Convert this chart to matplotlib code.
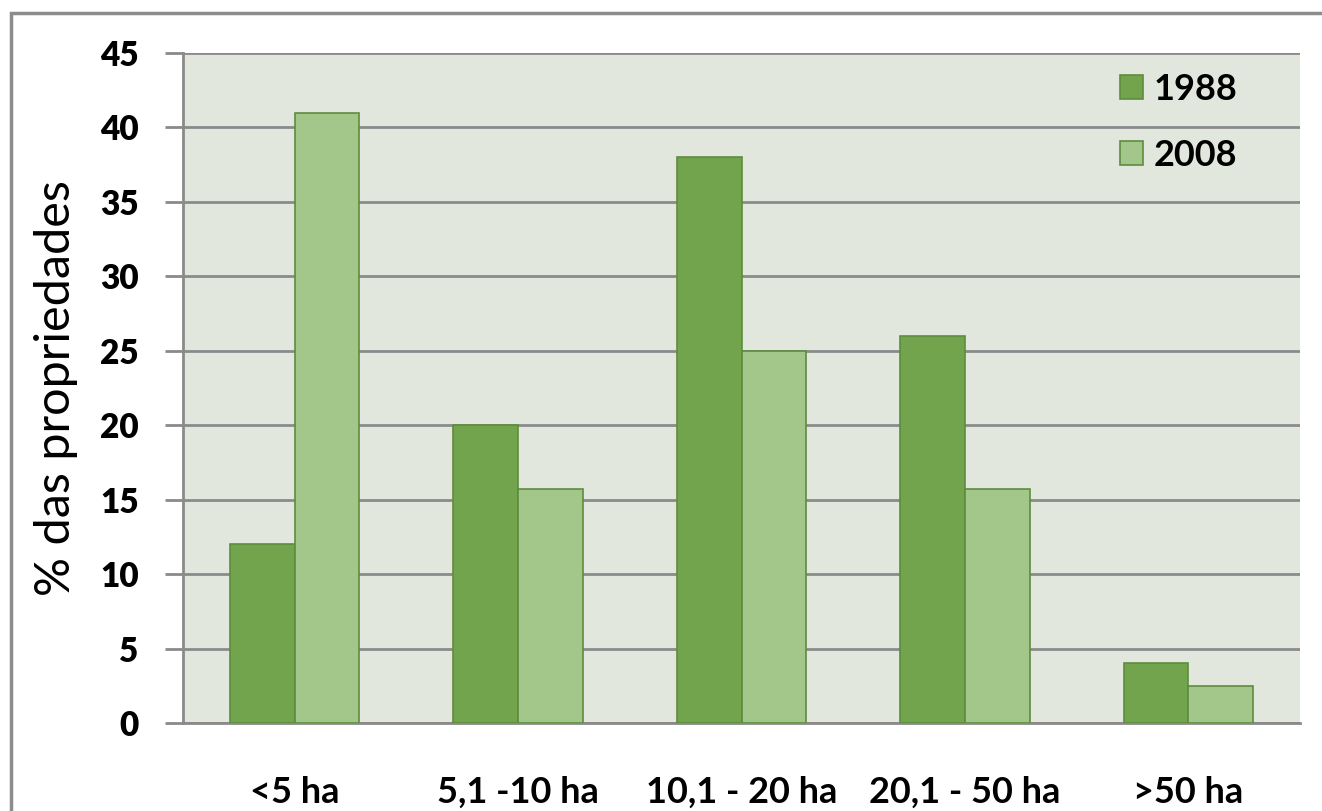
import matplotlib.pyplot as plt
import matplotlib.patches as mpatches
import numpy as np

categories = ["<5 ha", "5,1 -10 ha", "10,1 - 20 ha", "20,1 - 50 ha", ">50 ha"]
series_1988 = [12, 20, 38, 26, 4]
series_2008 = [41, 15.7, 25, 15.7, 2.5]
yticks = [0, 5, 10, 15, 20, 25, 30, 35, 40, 45]

plt.rcParams['font.family'] = ['Lato', 'DejaVu Sans']

W, H = 1322, 811
fig = plt.figure(figsize=(W / 100, H / 100), dpi=100)
fig.patch.set_facecolor('white')

# outer frame of the chart
frame = mpatches.Rectangle((11 / W, -0.05), 1.2, 1 - 13 / H + 0.05,
                           transform=fig.transFigure, fill=False,
                           edgecolor='#8c8c8c', linewidth=2.5)
fig.patches.append(frame)

ax = fig.add_axes([183 / W, 1 - 723 / H, (1300 - 183) / W, (723 - 53) / H])
ax.set_facecolor('#e2e7dd')

x = np.arange(len(categories))
bw = 0.29
dark = '#72a34d'
light = '#a3c68b'
edge = '#5e8c3e'
ax.bar(x - bw / 2, series_1988, bw, color=dark, edgecolor=edge, linewidth=1.2,
       label='1988', zorder=3)
ax.bar(x + bw / 2, series_2008, bw, color=light, edgecolor=edge, linewidth=1.2,
       label='2008', zorder=3)

ax.set_xlim(-0.5, len(categories) - 0.5)
ax.set_ylim(0, 45)
ax.set_yticks(yticks)
ax.set_yticklabels([str(t) for t in yticks], fontsize=24, fontweight='heavy')
ax.yaxis.grid(True, color='#8a8a8a', linewidth=2)
ax.set_axisbelow(True)
ax.tick_params(axis='y', length=13, width=2, color='#8a8a8a', pad=19)
ax.set_xticks(x)
ax.set_xticklabels(categories, fontsize=26, fontweight='bold')
ax.tick_params(axis='x', length=0, pad=38)

for s in ['top', 'right']:
    ax.spines[s].set_visible(False)
ax.spines['left'].set_color('#8a8a8a')
ax.spines['left'].set_linewidth(2)
ax.spines['bottom'].set_color('#8a8a8a')
ax.spines['bottom'].set_linewidth(2)

ax.set_ylabel('% das propriedades', fontsize=35, labelpad=16)

leg = ax.legend(loc='upper left', bbox_to_anchor=(0.839, 0.970), frameon=False,
                fontsize=26, handlelength=0.64, handleheight=0.64,
                handletextpad=0.3, labelspacing=0.9, borderpad=0,
                borderaxespad=0)
for t in leg.get_texts():
    t.set_fontweight('bold')

fig.savefig('out.png', dpi=100, facecolor='white')
